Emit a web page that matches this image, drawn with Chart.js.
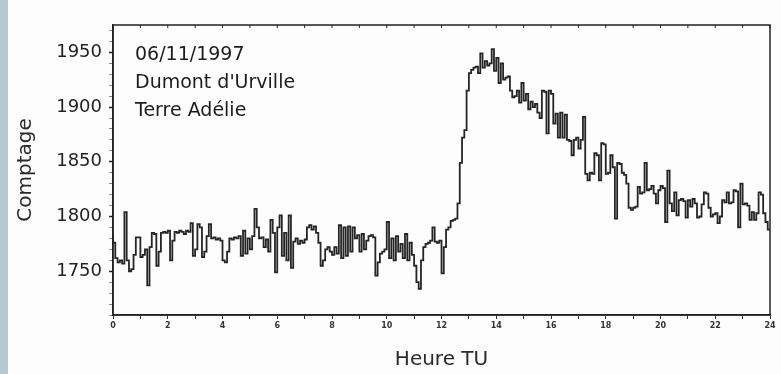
<!DOCTYPE html>
<html>
<head>
<meta charset="utf-8">
<script src="https://cdn.jsdelivr.net/npm/chart.js@4.4.1/dist/chart.umd.min.js"></script>
<style>
  html, body { margin: 0; padding: 0; background: #ffffff; }
  canvas { display: block; }
</style>
</head>
<body>
<canvas id="c" width="781" height="374"></canvas>
<script>
// ---- Data ----
const stepMinutes = 5;            // sampling step of the series
const startHour = 0;
// counts every 5 minutes from 00:00 to 24:00 TU (one row per hour)
const counts = [
  1783, 1776, 1762, 1758, 1760, 1757, 1804, 1760, 1750, 1752, 1765, 1781, // 0 h
  1781, 1763, 1765, 1770, 1737, 1772, 1785, 1784, 1755, 1768, 1785, 1786, // 1 h
  1785, 1787, 1760, 1778, 1786, 1785, 1787, 1786, 1784, 1787, 1786, 1794, // 2 h
  1764, 1770, 1793, 1790, 1763, 1768, 1782, 1793, 1780, 1781, 1779, 1780, // 3 h
  1778, 1760, 1758, 1768, 1780, 1779, 1781, 1780, 1782, 1764, 1787, 1766, // 4 h
  1780, 1770, 1782, 1807, 1790, 1780, 1781, 1772, 1779, 1768, 1797, 1785, // 5 h
  1749, 1790, 1801, 1764, 1785, 1760, 1801, 1753, 1777, 1780, 1775, 1778, // 6 h
  1776, 1779, 1790, 1792, 1788, 1791, 1785, 1776, 1755, 1760, 1770, 1772, // 7 h
  1768, 1765, 1772, 1766, 1792, 1762, 1790, 1764, 1791, 1768, 1790, 1780, // 8 h
  1783, 1768, 1784, 1770, 1778, 1782, 1783, 1781, 1746, 1758, 1766, 1768, // 9 h
  1770, 1795, 1762, 1780, 1760, 1782, 1768, 1775, 1762, 1784, 1760, 1776, // 10 h
  1765, 1755, 1740, 1734, 1760, 1772, 1775, 1776, 1778, 1790, 1777, 1776, // 11 h
  1778, 1748, 1772, 1788, 1790, 1796, 1797, 1798, 1812, 1849, 1872, 1879, // 12 h
  1915, 1931, 1934, 1936, 1937, 1931, 1949, 1936, 1942, 1938, 1940, 1953, // 13 h
  1933, 1945, 1922, 1940, 1925, 1927, 1928, 1915, 1909, 1910, 1915, 1904, // 14 h
  1922, 1906, 1912, 1898, 1905, 1900, 1903, 1895, 1890, 1915, 1914, 1876, // 15 h
  1915, 1912, 1885, 1894, 1872, 1895, 1872, 1893, 1870, 1869, 1856, 1870, // 16 h
  1872, 1862, 1870, 1891, 1839, 1833, 1840, 1839, 1858, 1856, 1833, 1867, // 17 h
  1866, 1839, 1840, 1856, 1845, 1798, 1849, 1848, 1840, 1838, 1830, 1808, // 18 h
  1806, 1808, 1809, 1827, 1821, 1822, 1849, 1824, 1825, 1828, 1821, 1812, // 19 h
  1824, 1828, 1826, 1795, 1842, 1812, 1805, 1822, 1801, 1815, 1816, 1814, // 20 h
  1799, 1815, 1809, 1816, 1812, 1799, 1800, 1811, 1822, 1821, 1808, 1800, // 21 h
  1802, 1803, 1794, 1800, 1815, 1813, 1822, 1812, 1813, 1824, 1823, 1790, // 22 h
  1830, 1811, 1812, 1810, 1797, 1804, 1797, 1803, 1822, 1820, 1803, 1795, // 23 h
  1788                                                                    // 24 h
];
const yTickLabels = [1750, 1800, 1850, 1900, 1950];
const xTickLabels = [0, 2, 4, 6, 8, 10, 12, 14, 16, 18, 20, 22, 24];
const annotationLines = ["06/11/1997", "Dumont d'Urville", "Terre Adélie"];
const xTitle = "Heure TU";
const yTitle = "Comptage";

// ---- Build points ----
const points = counts.map((v, i) => ({ x: startHour + i * stepMinutes / 60, y: v }));

const AREA = { left: 113, right: 770, top: 25, bottom: 315 };
const W = 781, H = 374;
const FONT = '"DejaVu Sans", "Liberation Sans", Arial, sans-serif';

const decor = {
  id: 'decor',
  beforeDraw(chart) {
    const ctx = chart.ctx;
    ctx.save();
    ctx.fillStyle = '#fdfdfd';
    ctx.fillRect(0, 0, W, H);
    ctx.fillStyle = '#b7c9d3';
    ctx.fillRect(0, 0, 8, H);
    ctx.restore();
  },
  afterDraw(chart) {
    const ctx = chart.ctx;
    const a = chart.chartArea;
    ctx.save();
    ctx.strokeStyle = '#222';
    ctx.lineWidth = 1.5;
    ctx.strokeRect(a.left, a.top, a.right - a.left, a.bottom - a.top);
    const xs = chart.scales.x;
    ctx.lineWidth = 1;
    xs.ticks.forEach(t => {
      const px = xs.getPixelForValue(t.value);
      ctx.beginPath();
      ctx.moveTo(px, a.top);
      ctx.lineTo(px, a.top + 3);
      ctx.stroke();
    });
    ctx.fillStyle = '#1c1c1c';
    ctx.font = '19px ' + FONT;
    ctx.textBaseline = 'alphabetic';
    annotationLines.forEach((s, i) => {
      ctx.fillText(s, a.left + 22, a.top + 35 + i * 28);
    });
    ctx.restore();
  }
};

new Chart(document.getElementById('c'), {
  type: 'line',
  data: {
    datasets: [{
      data: points,
      stepped: 'after',
      borderColor: '#252525',
      borderWidth: 1.8,
      pointRadius: 0,
      fill: false,
      tension: 0
    }]
  },
  options: {
    responsive: false,
    animation: false,
    events: [],
    layout: { padding: { left: 0, right: W - AREA.right, top: AREA.top, bottom: 0 } },
    plugins: { legend: { display: false }, tooltip: { enabled: false } },
    scales: {
      x: {
        type: 'linear',
        min: 0,
        max: 24,
        afterFit(scale) { scale.height = H - AREA.bottom; },
        afterBuildTicks(scale) {
          const t = [];
          for (let h = 0; h <= 24; h++) t.push({ value: h });
          scale.ticks = t;
        },
        ticks: {
          autoSkip: false,
          maxRotation: 0,
          padding: 2,
          color: '#333',
          font: { size: 8, weight: 'bold', family: FONT },
          callback: (v) => xTickLabels.includes(v) ? String(v) : ''
        },
        grid: { drawOnChartArea: false, tickLength: 4, color: '#333', tickColor: '#333' },
        border: { display: true, color: '#222', width: 1.5 },
        title: {
          display: true,
          text: xTitle,
          color: '#2a2a2a',
          font: { size: 20, family: FONT },
          padding: { top: 0, bottom: 2 }
        }
      },
      y: {
        type: 'linear',
        min: 1710,
        max: 1975,
        afterFit(scale) { scale.width = AREA.left; },
        afterBuildTicks(scale) {
          const t = [];
          for (let v = 1710; v <= 1970; v += 10) t.push({ value: v });
          scale.ticks = t;
        },
        ticks: {
          autoSkip: false,
          padding: 7,
          color: '#222',
          font: { size: 18, family: FONT },
          callback: (v) => yTickLabels.includes(v) ? String(v) : ''
        },
        grid: {
          drawOnChartArea: false,
          tickLength: 4,
          tickColor: (c) => (c.tick && yTickLabels.includes(c.tick.value)) ? '#222' : '#888',
          tickWidth: (c) => (c.tick && yTickLabels.includes(c.tick.value)) ? 1.5 : 1
        },
        border: { display: true, color: '#222', width: 1.5 },
        title: {
          display: true,
          text: yTitle,
          color: '#2a2a2a',
          font: { size: 20, family: FONT },
          padding: { top: 14, bottom: 0 }
        }
      }
    }
  },
  plugins: [decor]
});
</script>
</body>
</html>
